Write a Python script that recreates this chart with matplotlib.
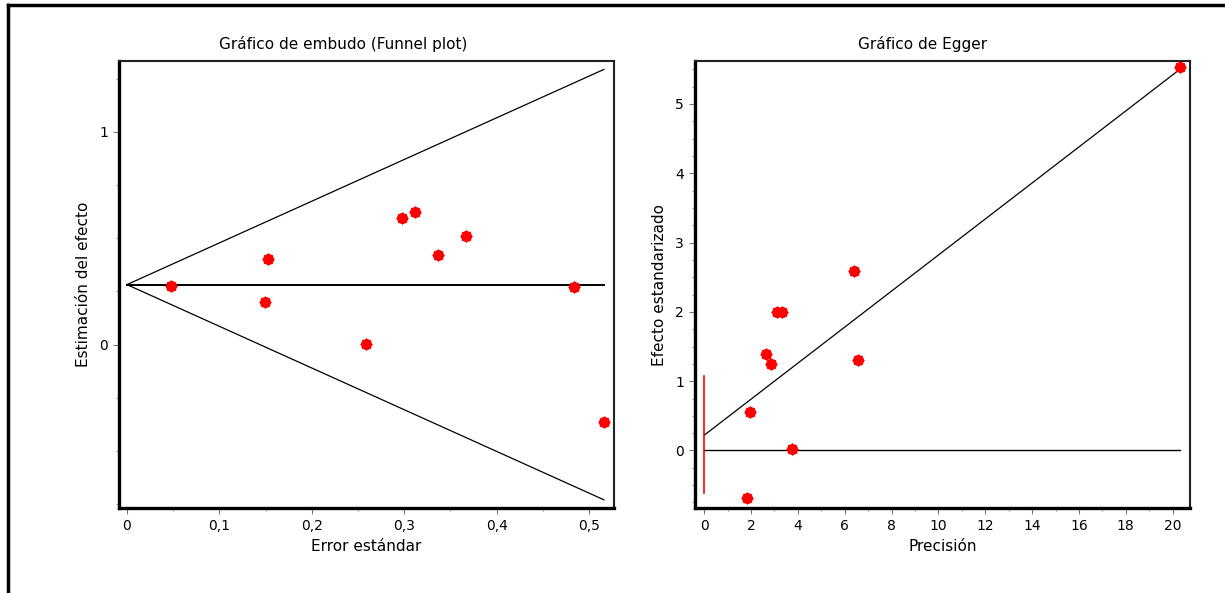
import numpy as np
import matplotlib.pyplot as plt
from matplotlib.ticker import MultipleLocator, FuncFormatter
from matplotlib.lines import Line2D

plt.rcParams['font.family'] = ['DejaVu Sans']
plt.rcParams['font.size'] = 10

############################################################
# Funnel plot data
errStd = [0.048, 0.149, 0.153, 0.259, 0.298, 0.312, 0.337, 0.367, 0.484, 0.516]
efecto = [0.274, 0.199, 0.403, 0.005, 0.593, 0.623, 0.420, 0.510, 0.270, -0.365]
pooled = 0.282        # pooled estimate (horizontal line)
zCrit = 1.96          # funnel limits
seMax = 0.516

# Egger plot data
precision = [20.32, 6.40, 3.12, 3.32, 2.65, 2.85, 6.56, 1.97, 3.75, 1.83]
efectoStd = [5.536, 2.588, 1.995, 1.995, 1.39, 1.25, 1.30, 0.56, 0.02, -0.686]
eggerIntercept = 0.22
eggerSlope = 0.26
eggerCI = [-0.61, 1.08]
precMax = 20.32


def comma(v, pos):
    s = ('%.1f' % v) if abs(v - round(v)) > 1e-9 else '%d' % round(v)
    return s.replace('.', ',')


def style_axes(ax):
    for side in ['left', 'bottom']:
        ax.spines[side].set_linewidth(2.4)
    for side in ['top', 'right']:
        ax.spines[side].set_linewidth(1.5)
        ax.spines[side].set_color('#222222')
    ax.tick_params(which='major', direction='out', length=4, width=0.8,
                   color='#777777', labelsize=10, pad=4)
    ax.tick_params(which='minor', direction='out', length=2, width=0.8,
                   color='#999999')


def dots(ax, x, y):
    ax.plot(x, y, 'o', color='red', ms=7, mec='red', zorder=5)
    ax.plot(x, y, marker=(8, 1, 0), ls='none', color='red', ms=10,
            mec='red', mew=0, zorder=5)


fig = plt.figure(figsize=(12.25, 5.93), dpi=100)

# outer frame (only top and left visible)
fig.add_artist(Line2D([8/1225, 1], [1-5/593, 1-5/593], color='k', lw=2.5))
fig.add_artist(Line2D([8/1225, 8/1225], [0, 1-5/593], color='k', lw=2.5))

############################################################
# Funnel plot
ax1 = fig.add_axes([119/1225, 1-508/593, 495/1225, 447/593])
xs = np.array([0, seMax])
ax1.plot(xs, pooled + zCrit*xs, color='k', lw=0.9)
ax1.plot(xs, pooled - zCrit*xs, color='k', lw=0.9)
ax1.plot(xs, [pooled, pooled], color='k', lw=1.4)
dots(ax1, errStd, efecto)
ax1.set_xlim(-0.0086, 0.527)
ax1.set_ylim(-0.768, 1.333)
ax1.xaxis.set_major_locator(MultipleLocator(0.1))
ax1.xaxis.set_minor_locator(MultipleLocator(0.05))
ax1.yaxis.set_major_locator(MultipleLocator(1))
ax1.yaxis.set_minor_locator(MultipleLocator(0.25))
ax1.xaxis.set_major_formatter(FuncFormatter(comma))
style_axes(ax1)
ax1.set_title('Gráfico de embudo (Funnel plot)', fontsize=11, pad=9, x=0.453)
ax1.set_xlabel('Error estándar', fontsize=11, labelpad=4)
ax1.set_ylabel('Estimación del efecto', fontsize=11, labelpad=6)

############################################################
# Egger plot
ax2 = fig.add_axes([695/1225, 1-508/593, 495/1225, 447/593])
px = np.array([0, precMax])
ax2.plot(px, eggerIntercept + eggerSlope*px, color='k', lw=0.9)
ax2.plot(px, [0, 0], color='k', lw=1.0)
ax2.plot([0, 0], eggerCI, color='red', lw=1.2)
dots(ax2, precision, efectoStd)
ax2.set_xlim(-0.39, 20.74)
ax2.set_ylim(-0.83, 5.62)
ax2.xaxis.set_major_locator(MultipleLocator(2))
ax2.xaxis.set_minor_locator(MultipleLocator(1))
ax2.yaxis.set_major_locator(MultipleLocator(1))
ax2.yaxis.set_minor_locator(MultipleLocator(0.25))
style_axes(ax2)
ax2.set_title('Gráfico de Egger', fontsize=11, pad=9, x=0.46)
ax2.set_xlabel('Precisión', fontsize=11, labelpad=4)
ax2.set_ylabel('Efecto estandarizado', fontsize=11, labelpad=6)

fig.savefig('out.png', dpi=100)
